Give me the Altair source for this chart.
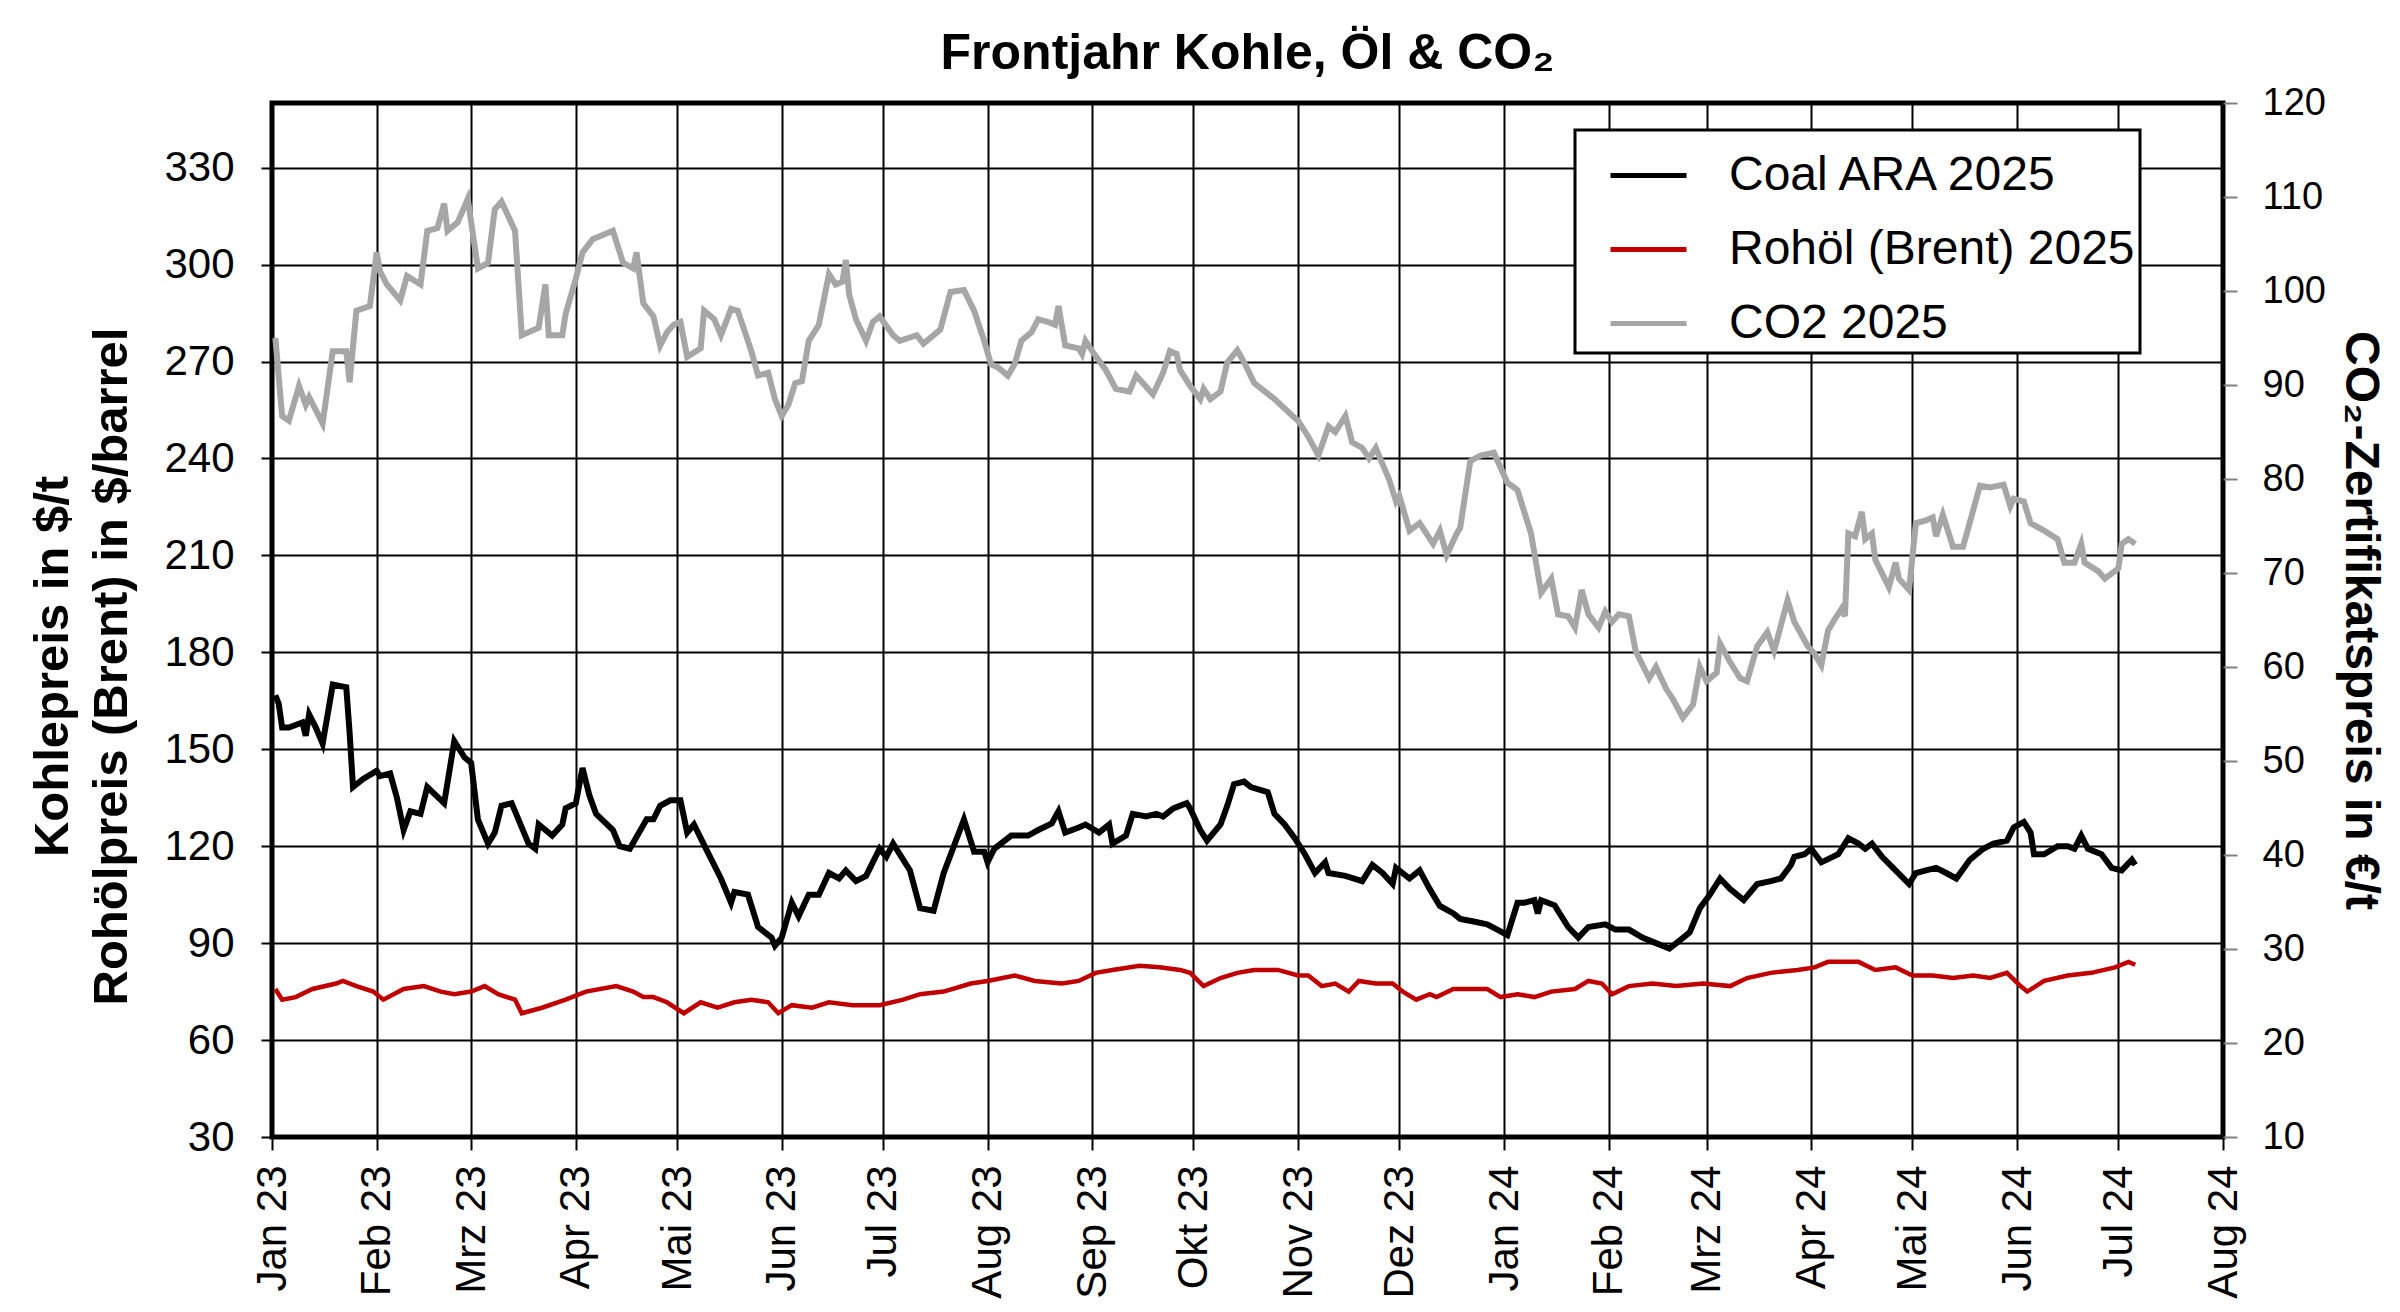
import altair as alt
import pandas as pd

# ---------------- data ----------------
month_names = ["Jan", "Feb", "Mrz", "Apr", "Mai", "Jun", "Jul", "Aug", "Sep", "Okt", "Nov", "Dez"]
series_names = ["Coal ARA 2025", "Rohöl (Brent) 2025", "CO2 2025"]
series_colors = ["#000000", "#C00000", "#A6A6A6"]
left_ticks = [30, 60, 90, 120, 150, 180, 210, 240, 270, 300, 330]
right_ticks = [10, 20, 30, 40, 50, 60, 70, 80, 90, 100, 110, 120]

coal_dates = [
    "2023-01-02", "2023-01-03", "2023-01-04", "2023-01-06", "2023-01-08", "2023-01-10", "2023-01-11",
    "2023-01-12", "2023-01-14", "2023-01-16", "2023-01-19", "2023-01-23", "2023-01-24", "2023-01-25",
    "2023-01-28", "2023-02-01", "2023-02-02", "2023-02-05", "2023-02-07", "2023-02-09", "2023-02-11",
    "2023-02-14", "2023-02-16", "2023-02-21", "2023-02-24", "2023-02-27", "2023-03-01", "2023-03-03",
    "2023-03-06", "2023-03-08", "2023-03-10", "2023-03-13", "2023-03-18", "2023-03-20", "2023-03-21",
    "2023-03-25", "2023-03-28", "2023-03-29", "2023-04-01", "2023-04-03", "2023-04-05", "2023-04-07",
    "2023-04-12", "2023-04-14", "2023-04-17", "2023-04-22", "2023-04-24", "2023-04-26", "2023-04-29",
    "2023-05-02", "2023-05-04", "2023-05-06", "2023-05-10", "2023-05-14", "2023-05-17", "2023-05-18",
    "2023-05-22", "2023-05-25", "2023-05-29", "2023-05-30", "2023-06-01", "2023-06-04", "2023-06-06",
    "2023-06-09", "2023-06-12", "2023-06-15", "2023-06-18", "2023-06-20", "2023-06-23", "2023-06-26",
    "2023-06-30", "2023-07-02", "2023-07-04", "2023-07-09", "2023-07-12", "2023-07-16", "2023-07-19",
    "2023-07-22", "2023-07-25", "2023-07-26", "2023-07-28", "2023-07-31", "2023-08-01", "2023-08-03",
    "2023-08-08", "2023-08-13", "2023-08-16", "2023-08-20", "2023-08-22", "2023-08-24", "2023-08-28",
    "2023-08-30", "2023-09-03", "2023-09-06", "2023-09-07", "2023-09-11", "2023-09-13", "2023-09-17",
    "2023-09-20", "2023-09-22", "2023-09-25", "2023-09-29", "2023-09-30", "2023-10-03", "2023-10-05",
    "2023-10-09", "2023-10-11", "2023-10-13", "2023-10-16", "2023-10-18", "2023-10-23", "2023-10-25",
    "2023-10-28", "2023-10-31", "2023-11-03", "2023-11-06", "2023-11-09", "2023-11-10", "2023-11-15",
    "2023-11-20", "2023-11-23", "2023-11-26", "2023-11-29", "2023-11-30", "2023-12-04", "2023-12-07",
    "2023-12-10", "2023-12-13", "2023-12-17", "2023-12-19", "2023-12-23", "2023-12-27", "2023-12-30",
    "2024-01-02", "2024-01-05", "2024-01-07", "2024-01-10", "2024-01-11", "2024-01-12", "2024-01-16",
    "2024-01-20", "2024-01-23", "2024-01-26", "2024-01-31", "2024-02-03", "2024-02-07", "2024-02-11",
    "2024-02-15", "2024-02-19", "2024-02-22", "2024-02-25", "2024-02-28", "2024-03-02", "2024-03-05",
    "2024-03-08", "2024-03-12", "2024-03-16", "2024-03-20", "2024-03-23", "2024-03-26", "2024-03-27",
    "2024-03-30", "2024-04-01", "2024-04-04", "2024-04-09", "2024-04-12", "2024-04-15", "2024-04-17",
    "2024-04-19", "2024-04-22", "2024-04-26", "2024-04-30", "2024-05-02", "2024-05-05", "2024-05-08",
    "2024-05-11", "2024-05-14", "2024-05-18", "2024-05-22", "2024-05-25", "2024-05-29", "2024-05-31",
    "2024-06-03", "2024-06-05", "2024-06-06", "2024-06-09", "2024-06-13", "2024-06-16", "2024-06-18",
    "2024-06-20", "2024-06-22", "2024-06-26", "2024-06-29", "2024-07-02", "2024-07-05", "2024-07-06",
]
coal_values = [
    166.7, 164.0, 156.7, 156.7, 157.5, 158.3, 154.2,
    160.8, 156.7, 151.7, 170.0, 169.2, 155.0, 138.3,
    140.8, 143.3, 141.7, 142.5, 135.0, 125.0, 130.8,
    130.0, 138.3, 133.3, 152.5, 147.5, 145.8, 128.3,
    120.8, 124.2, 132.5, 133.3, 120.8, 119.2, 126.7,
    123.3, 126.7, 131.7, 133.3, 144.2, 135.8, 130.0,
    125.0, 120.0, 119.2, 128.3, 128.3, 132.5, 134.2,
    134.2, 124.2, 126.7, 118.3, 110.0, 102.5, 105.8,
    105.0, 95.0, 91.7, 89.2, 91.7, 102.5, 98.3,
    105.0, 105.0, 111.7, 110.0, 112.5, 109.2, 110.8,
    119.2, 116.7, 120.8, 112.5, 100.8, 100.0, 111.7,
    120.0, 128.3, 125.0, 118.3, 118.3, 115.0, 119.2,
    123.3, 123.3, 125.0, 127.0, 130.8, 124.2, 125.8,
    126.7, 124.2, 126.7, 120.8, 123.3, 130.0, 129.2,
    130.0, 129.2, 131.7, 133.3, 131.7, 125.0, 121.7,
    126.7, 132.5, 139.2, 140.0, 138.3, 136.7, 130.0,
    126.7, 122.5, 117.5, 111.7, 115.0, 111.7, 110.8,
    109.2, 114.2, 111.7, 108.3, 113.3, 110.0, 112.5,
    106.7, 101.5, 99.2, 97.5, 96.7, 95.8, 94.2,
    92.5, 102.5, 102.5, 103.3, 99.2, 103.3, 101.7,
    95.0, 91.7, 95.0, 95.8, 94.2, 94.2, 91.7,
    90.0, 88.3, 90.8, 93.3, 100.8, 105.0, 110.0,
    106.7, 103.3, 108.3, 109.2, 110.0, 114.2, 116.7,
    117.5, 119.2, 115.0, 117.5, 122.5, 120.8, 119.2,
    120.8, 116.7, 112.5, 108.3, 111.7, 112.5, 113.3,
    111.7, 110.0, 115.8, 119.2, 120.8, 121.7, 125.8,
    127.5, 124.2, 117.5, 117.5, 120.0, 120.0, 119.2,
    123.3, 119.2, 117.5, 113.3, 112.5, 115.8, 114.2,
]

brent_dates = [
    "2023-01-02", "2023-01-04", "2023-01-08", "2023-01-13", "2023-01-20", "2023-01-22", "2023-01-26",
    "2023-01-31", "2023-02-03", "2023-02-09", "2023-02-15", "2023-02-20", "2023-02-24", "2023-03-01",
    "2023-03-05", "2023-03-09", "2023-03-14", "2023-03-16", "2023-03-22", "2023-03-29", "2023-04-04",
    "2023-04-13", "2023-04-18", "2023-04-21", "2023-04-24", "2023-04-28", "2023-05-03", "2023-05-08",
    "2023-05-13", "2023-05-18", "2023-05-23", "2023-05-28", "2023-05-31", "2023-06-04", "2023-06-10",
    "2023-06-15", "2023-06-22", "2023-06-30", "2023-07-07", "2023-07-12", "2023-07-19", "2023-07-27",
    "2023-08-01", "2023-08-09", "2023-08-15", "2023-08-23", "2023-08-28", "2023-09-02", "2023-09-07",
    "2023-09-15", "2023-09-21", "2023-09-27", "2023-09-30", "2023-10-04", "2023-10-09", "2023-10-14",
    "2023-10-19", "2023-10-26", "2023-11-01", "2023-11-04", "2023-11-08", "2023-11-12", "2023-11-16",
    "2023-11-19", "2023-11-24", "2023-11-29", "2023-12-02", "2023-12-06", "2023-12-10", "2023-12-12",
    "2023-12-17", "2023-12-22", "2023-12-27", "2023-12-31", "2024-01-05", "2024-01-10", "2024-01-15",
    "2024-01-22", "2024-01-26", "2024-01-30", "2024-02-02", "2024-02-07", "2024-02-14", "2024-02-21",
    "2024-02-29", "2024-03-08", "2024-03-13", "2024-03-20", "2024-03-28", "2024-04-02", "2024-04-06",
    "2024-04-11", "2024-04-15", "2024-04-20", "2024-04-26", "2024-05-01", "2024-05-07", "2024-05-13",
    "2024-05-19", "2024-05-24", "2024-05-29", "2024-06-02", "2024-06-04", "2024-06-09", "2024-06-16",
    "2024-06-23", "2024-06-30", "2024-07-04", "2024-07-06",
]
brent_values = [
    75.8, 72.5, 73.3, 75.8, 77.5, 78.3, 76.7,
    75.0, 72.5, 75.8, 76.7, 75.0, 74.2, 75.0,
    76.7, 74.2, 72.5, 68.3, 70.0, 72.5, 75.0,
    76.7, 75.0, 73.3, 73.3, 71.7, 68.3, 71.7,
    70.0, 71.7, 72.5, 71.7, 68.3, 70.8, 70.0,
    71.7, 70.8, 70.8, 72.5, 74.2, 75.0, 77.5,
    78.3, 80.0, 78.3, 77.5, 78.3, 80.8, 81.7,
    83.0, 82.5, 81.7, 80.8, 76.7, 79.2, 80.8,
    81.7, 81.7, 80.0, 80.0, 76.7, 77.5, 75.0,
    78.3, 77.5, 77.5, 75.0, 72.5, 74.2, 73.3,
    75.8, 75.8, 75.8, 73.3, 74.2, 73.3, 75.0,
    75.8, 78.3, 77.5, 74.2, 76.7, 77.5, 76.7,
    77.5, 76.7, 79.2, 80.8, 81.7, 82.5, 84.2,
    84.2, 84.2, 81.7, 82.5, 80.0, 80.0, 79.2,
    80.0, 79.2, 80.8, 76.7, 75.0, 78.3, 80.0,
    80.8, 82.5, 84.2, 83.3,
]

co2_dates = [
    "2023-01-02", "2023-01-04", "2023-01-06", "2023-01-09", "2023-01-11", "2023-01-12", "2023-01-16",
    "2023-01-19", "2023-01-23", "2023-01-24", "2023-01-26", "2023-01-30", "2023-02-01", "2023-02-02",
    "2023-02-04", "2023-02-08", "2023-02-10", "2023-02-14", "2023-02-16", "2023-02-19", "2023-02-21",
    "2023-02-22", "2023-02-25", "2023-02-28", "2023-03-03", "2023-03-06", "2023-03-08", "2023-03-10",
    "2023-03-14", "2023-03-16", "2023-03-21", "2023-03-23", "2023-03-24", "2023-03-28", "2023-03-29",
    "2023-04-01", "2023-04-03", "2023-04-06", "2023-04-12", "2023-04-15", "2023-04-18", "2023-04-19",
    "2023-04-21", "2023-04-24", "2023-04-26", "2023-04-28", "2023-04-30", "2023-05-02", "2023-05-04",
    "2023-05-08", "2023-05-09", "2023-05-12", "2023-05-14", "2023-05-17", "2023-05-19", "2023-05-23",
    "2023-05-25", "2023-05-28", "2023-05-30", "2023-06-01", "2023-06-03", "2023-06-05", "2023-06-07",
    "2023-06-09", "2023-06-12", "2023-06-15", "2023-06-17", "2023-06-19", "2023-06-20", "2023-06-21",
    "2023-06-23", "2023-06-26", "2023-06-28", "2023-06-30", "2023-07-04", "2023-07-06", "2023-07-11",
    "2023-07-13", "2023-07-18", "2023-07-21", "2023-07-25", "2023-07-28", "2023-07-31", "2023-08-02",
    "2023-08-04", "2023-08-07", "2023-08-09", "2023-08-11", "2023-08-14", "2023-08-16", "2023-08-19",
    "2023-08-21", "2023-08-22", "2023-08-24", "2023-08-28", "2023-08-29", "2023-08-30", "2023-09-01",
    "2023-09-05", "2023-09-08", "2023-09-12", "2023-09-14", "2023-09-16", "2023-09-19", "2023-09-22",
    "2023-09-24", "2023-09-26", "2023-09-27", "2023-09-30", "2023-10-03", "2023-10-04", "2023-10-06",
    "2023-10-09", "2023-10-11", "2023-10-14", "2023-10-16", "2023-10-19", "2023-10-25", "2023-10-31",
    "2023-11-01", "2023-11-04", "2023-11-07", "2023-11-10", "2023-11-12", "2023-11-15", "2023-11-17",
    "2023-11-20", "2023-11-22", "2023-11-24", "2023-11-28", "2023-11-30", "2023-12-01", "2023-12-04",
    "2023-12-07", "2023-12-11", "2023-12-13", "2023-12-15", "2023-12-18", "2023-12-19", "2023-12-22",
    "2023-12-25", "2023-12-29", "2024-01-02", "2024-01-04", "2024-01-05", "2024-01-09", "2024-01-12",
    "2024-01-15", "2024-01-17", "2024-01-20", "2024-01-22", "2024-01-24", "2024-01-26", "2024-01-29",
    "2024-01-31", "2024-02-02", "2024-02-04", "2024-02-07", "2024-02-09", "2024-02-13", "2024-02-15",
    "2024-02-18", "2024-02-20", "2024-02-23", "2024-02-26", "2024-02-28", "2024-03-01", "2024-03-04",
    "2024-03-05", "2024-03-08", "2024-03-11", "2024-03-13", "2024-03-16", "2024-03-19", "2024-03-21",
    "2024-03-25", "2024-03-27", "2024-03-31", "2024-04-02", "2024-04-04", "2024-04-06", "2024-04-08",
    "2024-04-10", "2024-04-11", "2024-04-12", "2024-04-14", "2024-04-16", "2024-04-17", "2024-04-19",
    "2024-04-20", "2024-04-24", "2024-04-26", "2024-04-27", "2024-04-30", "2024-05-02", "2024-05-05",
    "2024-05-07", "2024-05-08", "2024-05-10", "2024-05-13", "2024-05-16", "2024-05-21", "2024-05-24",
    "2024-05-28", "2024-05-30", "2024-05-31", "2024-06-03", "2024-06-05", "2024-06-09", "2024-06-13",
    "2024-06-15", "2024-06-18", "2024-06-20", "2024-06-21", "2024-06-25", "2024-06-27", "2024-07-01",
    "2024-07-02", "2024-07-04", "2024-07-06",
]
co2_values = [
    95.0, 86.7, 86.2, 89.9, 87.9, 88.7, 85.9,
    93.6, 93.6, 90.3, 97.9, 98.4, 104.1, 102.1,
    100.7, 99.0, 101.6, 100.7, 106.4, 106.7, 109.3,
    106.4, 107.3, 109.8, 102.4, 103.0, 108.7, 109.5,
    106.4, 95.3, 96.1, 100.7, 95.3, 95.3, 97.6,
    101.3, 104.1, 105.5, 106.4, 103.0, 102.4, 104.1,
    98.7, 97.3, 94.2, 95.6, 96.4, 96.7, 93.0,
    93.9, 97.9, 97.0, 95.3, 98.1, 97.9, 93.6,
    91.0, 91.3, 88.5, 86.7, 87.9, 90.2, 90.4,
    94.7, 96.4, 101.8, 100.7, 101.0, 103.3, 99.6,
    97.0, 94.7, 96.7, 97.3, 95.3, 94.7, 95.3,
    94.4, 95.9, 99.9, 100.1, 97.9, 94.7, 92.2,
    91.9, 91.0, 92.2, 94.7, 95.6, 97.0, 96.7,
    96.4, 98.4, 94.2, 93.9, 93.3, 94.7, 93.6,
    91.6, 89.6, 89.3, 91.0, 90.2, 89.0, 91.3,
    93.6, 93.3, 91.6, 89.9, 88.5, 89.6, 88.5,
    89.3, 92.4, 93.7, 92.4, 90.2, 88.5, 86.5,
    86.2, 84.5, 82.5, 85.6, 85.0, 86.7, 83.9,
    83.3, 82.2, 83.3, 79.9, 77.6, 78.2, 74.5,
    75.3, 73.1, 74.5, 71.9, 74.2, 74.8, 81.9,
    82.5, 82.8, 79.6, 79.1, 78.8, 74.2, 67.9,
    69.4, 65.6, 65.4, 64.2, 68.2, 65.6, 64.2,
    65.9, 64.8, 65.6, 65.4, 61.7, 58.8, 60.0,
    57.7, 56.6, 54.6, 56.0, 60.0, 58.5, 59.4,
    62.5, 60.5, 58.8, 58.5, 62.2, 63.7, 61.7,
    67.1, 64.8, 62.2, 61.4, 60.2, 63.9, 65.1,
    66.2, 65.4, 74.2, 73.9, 76.5, 73.6, 74.2,
    71.4, 68.5, 71.1, 69.4, 68.2, 75.3, 75.6,
    75.9, 73.9, 76.2, 72.8, 72.8, 79.3, 79.1,
    79.4, 77.1, 77.9, 77.6, 75.3, 74.5, 73.6,
    71.1, 71.1, 73.1, 71.1, 70.2, 69.4, 70.5,
    73.1, 73.6, 73.1,
]

# ---------------- tables ----------------
left_df = pd.DataFrame({
    "date": pd.to_datetime(coal_dates + brent_dates),
    "value": coal_values + brent_values,
    "series": [series_names[0]] * len(coal_dates) + [series_names[1]] * len(brent_dates),
})
right_df = pd.DataFrame({
    "date": pd.to_datetime(co2_dates),
    "value": co2_values,
    "series": [series_names[2]] * len(co2_dates),
})

FONT = "Liberation Sans, Arial, Helvetica, sans-serif"

month_js = "[" + ",".join("'%s'" % m for m in month_names) + "]"
x_label_expr = month_js + "[month(datum.value)] + ' ' + timeFormat(datum.value, '%y')"

x_enc = alt.X(
    "date:T",
    title=None,
    scale=alt.Scale(domain=[alt.DateTime(year=2023, month=1, date=1),
                            alt.DateTime(year=2024, month=8, date=1)]),
    axis=alt.Axis(
        tickCount={"interval": "month", "step": 1},
        labelExpr=x_label_expr,
        labelAngle=270, labelAlign="right", labelBaseline="middle",
        labelFont=FONT, labelFontSize=42, labelColor="black",
        labelPadding=15, labelOverlap=False, labelFlush=False, labelBound=False,
        tickSize=13, tickColor="black", tickWidth=2,
        grid=True, gridColor="black", gridWidth=2, gridOpacity=1,
        domain=False,
    ),
)

color_enc = alt.Color(
    "series:N",
    scale=alt.Scale(domain=series_names, range=series_colors),
    legend=alt.Legend(
        title=None, orient="none", legendX=1303, legendY=27,
        direction="vertical", symbolType="stroke", symbolSize=5776,
        symbolStrokeWidth=5, labelFont=FONT, labelFontSize=48, labelColor="black",
        labelOffset=40, labelLimit=800, padding=5, symbolOffset=28, rowPadding=9,
        strokeColor="black", fillColor="white", cornerRadius=0,
    ),
)

left_coal = alt.Chart(left_df).transform_filter(
    alt.datum.series == series_names[0]
).mark_line(strokeWidth=6).encode(
    x=x_enc,
    y=alt.Y(
        "value:Q",
        scale=alt.Scale(domain=[30, 350], nice=False, zero=False),
        axis=alt.Axis(
            values=left_ticks,
            title=["Kohlepreis in $/t", "Rohölpreis (Brent) in $/barrel"],
            titleFont=FONT, titleFontSize=49, titleFontWeight="bold", titleColor="black",
            titleLineHeight=59, titleAngle=270, titleAlign="center", titleBaseline="middle",
            titleX=-220, titleY=563,
            labelFont=FONT, labelFontSize=42, labelColor="black", labelPadding=27,
            tickSize=11, tickColor="black", tickWidth=2,
            grid=True, gridColor="black", gridWidth=2, gridOpacity=1,
            domain=False,
        ),
    ),
    color=color_enc,
)

left_brent = alt.Chart(left_df).transform_filter(
    alt.datum.series == series_names[1]
).mark_line(strokeWidth=4.5).encode(
    x=x_enc,
    y=alt.Y("value:Q"),
    color=color_enc,
)

left = alt.layer(left_coal, left_brent)

right = alt.Chart(right_df).mark_line(strokeWidth=6).encode(
    x=x_enc,
    y=alt.Y(
        "value:Q",
        scale=alt.Scale(domain=[10, 120], nice=False, zero=False),
        axis=alt.Axis(
            orient="right",
            values=right_ticks,
            title="CO₂-Zertifikatspreis in €/t",
            titleFont=FONT, titleFontSize=48, titleFontWeight="bold", titleColor="black",
            titleAngle=90, titleAlign="center", titleBaseline="middle",
            titleX=136, titleY=517,
            labelFont=FONT, labelFontSize=38, labelColor="black", labelPadding=25,
            tickSize=14, tickColor="#808080", tickWidth=2,
            grid=False, domain=False,
        ),
    ),
    color=color_enc,
)

chart = alt.layer(left, right).resolve_scale(y="independent").properties(
    width=1951,
    height=1034,
    autosize=alt.AutoSizeParams(type="none"),
    padding={"left": 264, "top": 95, "right": 169, "bottom": 167},
    title=alt.TitleParams(
        text="Frontjahr Kohle, Öl & CO₂",
        font=FONT, fontSize=50, fontWeight="bold", color="black",
        anchor="middle", frame="group", offset=5,
    ),
).configure_view(
    stroke="black", strokeWidth=5,
).configure_legend(
    strokeWidth=3,
)

chart.save("out.html", embed_options={"renderer": "svg", "actions": False})
